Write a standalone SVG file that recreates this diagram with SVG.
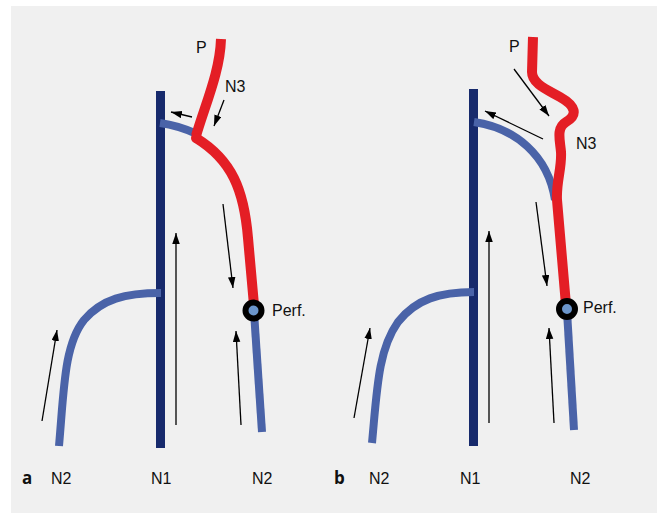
<svg xmlns="http://www.w3.org/2000/svg" width="657" height="513" viewBox="0 0 657 513">
  <style>
    .nerve1 { fill: #172a6c; }
    .n2 { fill: none; stroke: #4a63a8; stroke-width: 8; stroke-linecap: butt; }
    .p { fill: none; stroke: #e41e25; stroke-width: 10; stroke-linecap: butt; }
    .perf { fill: #6b95cb; stroke: #000; stroke-width: 6; }
    .flow { fill: none; stroke: #000; stroke-width: 1.3; marker-end: url(#head); }
    .lbl { font-family: "Liberation Sans", Arial, sans-serif; font-size: 16px; fill: #111; }
    .pane { font-family: "Open Sans", "Liberation Sans", sans-serif; font-size: 17px; font-weight: bold; fill: #111; }
  </style>
  <defs>
    <marker id="head" markerUnits="userSpaceOnUse" markerWidth="14" markerHeight="10" refX="11" refY="3.75" orient="auto">
      <path d="M0,0 L11,3.75 L0,7.5 Z" fill="#000"/>
    </marker>
  </defs>

  <rect x="0" y="0" width="657" height="513" fill="#fff"/>
  <rect x="11" y="6" width="646" height="507" fill="#f0f0f0"/>

  <!-- panel a -->
  <g id="panel-a">
    <rect id="a-N1" class="nerve1" x="156" y="91" width="9" height="357"/>
    <path id="a-N2-left" class="n2" d="M59,446 C64,390 64,345 84,320 C102,299 125,293 161,293"/>
    <path id="a-N2-branch" class="n2" d="M160,123 C175,125 186,129 197,134"/>
    <path id="a-N2-right" class="n2" d="M254,312 L262,432"/>
    <path id="a-P" class="p" d="M221,39 C220,72 205,105 196,136" />
    <path id="a-N3" class="p" d="M196,138 C232,160 244,190 248,238 L254,305"/>
    <circle cx="196" cy="138" r="5" fill="#e41e25"/>
    <circle id="a-perf" class="perf" cx="253.5" cy="310.5" r="8"/>
  </g>

  <!-- panel b -->
  <g id="panel-b">
    <rect id="b-N1" class="nerve1" x="469" y="89" width="9" height="357"/>
    <path id="b-N2-left" class="n2" d="M372,443 C377,390 378,350 398,322 C416,299 440,292 474,292"/>
    <path id="b-N2-branch" class="n2" d="M474,122 C515,128 548,155 555,200"/>
    <path id="b-N2-right" class="n2" d="M567,311 L574,430"/>
    <path id="b-P" class="p" d="M533,37 L532,72 C532,84 548,90 560,97 C576,106 578,115 566,122 C556,128 560,140 561,152 C562,168 556,182 557,200 L566,305"/>
    <circle id="b-perf" class="perf" cx="567" cy="309" r="8"/>
  </g>

  <!-- flow arrows -->
  <g id="connectors">
    <path class="flow" d="M42,421 L57,330"/>
    <path class="flow" d="M176,425 L176,233"/>
    <path class="flow" d="M241,425 L236,331"/>
    <path class="flow" d="M223,204 L233,288"/>
    <path class="flow" d="M224,100 L214,126"/>
    <path class="flow" d="M192,117 L171,112"/>

    <path class="flow" d="M354,418 L370,328"/>
    <path class="flow" d="M489,423 L489,231"/>
    <path class="flow" d="M554,423 L549,328"/>
    <path class="flow" d="M536,202 L547,286"/>
    <path class="flow" d="M514,69 L549,116"/>
    <path class="flow" d="M543,139 L485,111"/>
  </g>

  <!-- labels -->
  <g id="labels">
    <text class="lbl" x="196" y="53">P</text>
    <text class="lbl" x="225" y="92">N3</text>
    <text class="lbl" x="272" y="316">Perf.</text>
    <text class="pane" x="22" y="484">a</text>
    <text class="lbl" x="51" y="484">N2</text>
    <text class="lbl" x="151" y="484">N1</text>
    <text class="lbl" x="252" y="484">N2</text>

    <text class="lbl" x="509" y="52">P</text>
    <text class="lbl" x="576" y="149">N3</text>
    <text class="lbl" x="583" y="313">Perf.</text>
    <text class="pane" x="334" y="484">b</text>
    <text class="lbl" x="369" y="484">N2</text>
    <text class="lbl" x="460" y="484">N1</text>
    <text class="lbl" x="570" y="484">N2</text>
  </g>
</svg>
